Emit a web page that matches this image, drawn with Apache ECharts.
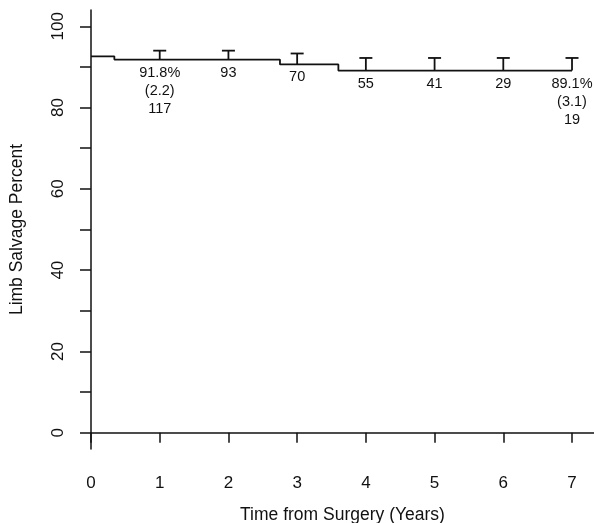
<!DOCTYPE html>
<html>
<head>
<meta charset="utf-8">
<script src="https://cdn.jsdelivr.net/npm/echarts@6/dist/echarts.min.js"></script>
<style>html,body{margin:0;padding:0;background:#fff}#c{width:594px;height:523px}</style>
</head>
<body>
<div id="c"></div>
<script>
// Kaplan-Meier step curve (time in years, limb salvage %)
const curveTimes = [0, 0.34, 2.75, 3.6, 7];
const curveValues = [92.6, 91.8, 90.6, 89.1, 89.1];
// Upper error bars at each year
const barTimes = [1, 2, 3, 4, 5, 6, 7];
const barLow = [91.8, 91.8, 90.6, 89.1, 89.1, 89.1, 89.1];
const barHigh = [94.0, 94.0, 93.3, 92.2, 92.2, 92.2, 92.2];
// Annotations under the curve (estimate, SE, number at risk)
const annotations = ['91.8%\n(2.2)\n117', '93', '70', '55', '41', '29', '89.1%\n(3.1)\n19'];
// Axis ticks
const xTicks = [0, 1, 2, 3, 4, 5, 6, 7];
const yTicks = [0, 10, 20, 30, 40, 50, 60, 70, 80, 90, 100];
const yLabels = [0, 20, 40, 60, 80, 100];

const FONT = '"Liberation Sans", Arial, Helvetica, sans-serif';
const INK = '#111';

const chart = echarts.init(document.getElementById('c'), null, {renderer: 'canvas'});
chart.setOption({
  animation: false,
  grid: {left: 91, right: 0, top: 10, bottom: 74, containLabel: false, outerBoundsMode: 'none'},
  xAxis: {
    type: 'value', min: 0, max: 7.32,
    name: 'Time from Surgery (Years)', nameLocation: 'middle', nameGap: 57,
    nameTextStyle: {fontFamily: FONT, fontSize: 17.5, color: INK},
    axisLine: {show: true, lineStyle: {color: INK, width: 1.5}},
    axisTick: {show: true, length: 10, lineStyle: {color: INK, width: 1.5}, customValues: xTicks},
    axisLabel: {fontFamily: FONT, fontSize: 17, color: INK, margin: 26, customValues: xTicks},
    splitLine: {show: false}
  },
  yAxis: {
    type: 'value', min: -4, max: 104,
    name: 'Limb Salvage Percent', nameLocation: 'middle', nameGap: 65, nameRotate: 90,
    nameTextStyle: {fontFamily: FONT, fontSize: 17.5, color: INK},
    axisLine: {show: true, lineStyle: {color: INK, width: 1.5}},
    axisTick: {show: true, length: 11, lineStyle: {color: INK, width: 1.5}, customValues: yTicks},
    axisLabel: {fontFamily: FONT, fontSize: 17, color: INK, margin: 24, rotate: 90, customValues: yLabels},
    splitLine: {show: false}
  },
  series: [
    {
      type: 'line', step: 'end', symbol: 'none',
      data: curveTimes.map((t, i) => [t, curveValues[i]]),
      lineStyle: {color: INK, width: 1.8}
    },
    {
      type: 'custom',
      data: barTimes.map((t, i) => [t, barLow[i], barHigh[i]]),
      renderItem: function (params, api) {
        const lo = api.coord([api.value(0), api.value(1)]);
        const hi = api.coord([api.value(0), api.value(2)]);
        const hw = 6.5;
        return {
          type: 'group',
          children: [
            {type: 'line', shape: {x1: lo[0], y1: lo[1], x2: hi[0], y2: hi[1]}, style: {stroke: INK, lineWidth: 1.8}},
            {type: 'line', shape: {x1: hi[0] - hw, y1: hi[1], x2: hi[0] + hw, y2: hi[1]}, style: {stroke: INK, lineWidth: 1.8}}
          ]
        };
      }
    },
    {
      type: 'custom',
      data: barTimes.map((t, i) => [t, barLow[i], i]),
      renderItem: function (params, api) {
        const p = api.coord([api.value(0), api.value(1)]);
        return {
          type: 'text',
          x: p[0], y: p[1] + 4,
          style: {
            text: annotations[api.value(2)], fontFamily: FONT, fontSize: 14.5, lineHeight: 18,
            fill: INK, align: 'center', verticalAlign: 'top'
          }
        };
      }
    }
  ]
});
</script>
</body>
</html>
